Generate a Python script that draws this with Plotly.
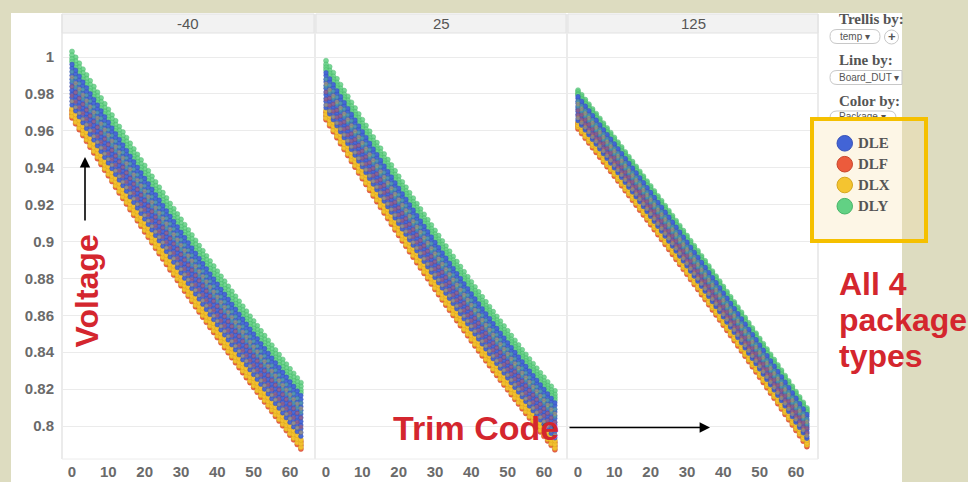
import plotly.graph_objects as go

# ---------------- data ----------------
temps = ["-40", "25", "125"]
trim_codes = list(range(64))
x_tick_vals = [0, 10, 20, 30, 40, 50, 60]
y_tick_vals = [0.8, 0.82, 0.84, 0.86, 0.88, 0.9, 0.92, 0.94, 0.96, 0.98, 1.0]
y_tick_text = ["0.8", "0.82", "0.84", "0.86", "0.88", "0.9", "0.92", "0.94", "0.96", "0.98", "1"]

packages = ["DLE", "DLF", "DLX", "DLY"]
pkg_colors = ["#4264d6", "#ec5b3c", "#f4c430", "#62d184"]
pkg_edge = ["#3550b8", "#c8442a", "#d6a61c", "#45b568"]

# nominal (median) voltage per trim code, mV
v_m40_mV = [985.0, 981.8, 978.6, 975.4, 972.3, 969.1, 966.0, 962.9, 959.8, 956.6, 953.6, 950.5, 947.4, 944.3, 941.3, 938.3,
            935.2, 932.2, 929.2, 926.2, 923.2, 920.3, 917.3, 914.3, 911.4, 908.5, 905.6, 902.6, 899.8, 896.9, 894.0, 891.1,
            888.3, 885.5, 882.6, 879.8, 877.0, 874.2, 871.4, 868.7, 865.9, 863.1, 860.4, 857.7, 855.0, 852.3, 849.6, 846.9,
            844.2, 841.5, 838.9, 836.3, 833.6, 831.0, 828.4, 825.8, 823.2, 820.7, 818.1, 815.5, 813.0, 810.5, 808.0, 805.5]
v_25_mV = [982.0, 978.7, 975.5, 972.2, 969.0, 965.8, 962.6, 959.4, 956.3, 953.1, 950.0, 946.9, 943.7, 940.6, 937.6, 934.5,
           931.4, 928.4, 925.4, 922.3, 919.3, 916.3, 913.4, 910.4, 907.5, 904.5, 901.6, 898.7, 895.8, 892.9, 890.0, 887.2,
           884.3, 881.5, 878.7, 875.9, 873.1, 870.4, 867.6, 864.9, 862.1, 859.4, 856.7, 854.0, 851.3, 848.7, 846.0, 843.4,
           840.8, 838.2, 835.6, 833.0, 830.4, 827.9, 825.3, 822.8, 820.3, 817.8, 815.3, 812.8, 810.4, 807.9, 805.5, 803.1]
v_125_mV = [972.0, 969.5, 966.9, 964.4, 961.8, 959.3, 956.7, 954.1, 951.5, 949.0, 946.4, 943.8, 941.2, 938.5, 935.9, 933.3,
            930.7, 928.0, 925.4, 922.7, 920.1, 917.4, 914.7, 912.1, 909.4, 906.7, 904.0, 901.3, 898.6, 895.9, 893.2, 890.4,
            887.7, 885.0, 882.2, 879.5, 876.7, 873.9, 871.2, 868.4, 865.6, 862.8, 860.0, 857.2, 854.4, 851.6, 848.8, 845.9,
            843.1, 840.3, 837.4, 834.6, 831.7, 828.8, 826.0, 823.1, 820.2, 817.3, 814.4, 811.5, 808.6, 805.7, 802.8, 799.8]

# Board_DUT line offsets from nominal (mV), per package and temperature
DLE_off_m40 = [-11, -9, -7, -5, -3, -1, 1, 3, 5, 7, 9, 11]
DLF_off_m40 = [-18, -16, -14, -6, -1]
DLX_off_m40 = [-17, -15, -13, -9, 4]
DLY_off_m40 = [18, 16, 14, 12.5, 7, 2]

DLE_off_25 = [-9.5, -8, -6, -4.5, -2.5, -1, 1, 2.5, 4.5, 6, 8, 9.5]
DLF_off_25 = [-16, -14, -12, -5, -1]
DLX_off_25 = [-15, -13, -11, -8, 3.5]
DLY_off_25 = [16, 14, 12.5, 11, 6, 2]

DLE_off_125 = [-6.5, -5.5, -4, -3, -1.5, -0.5, 0.5, 1.5, 3, 4, 5.5, 6.5]
DLF_off_125 = [-11, -9.5, -8, -3.5, -1]
DLX_off_125 = [-10, -9, -7.5, -5, 2.5]
DLY_off_125 = [10, 9, 8, 7.5, 4, 1]

nominal_by_temp = [v_m40_mV, v_25_mV, v_125_mV]
offsets_by_temp = [
    {"DLE": DLE_off_m40, "DLF": DLF_off_m40, "DLX": DLX_off_m40, "DLY": DLY_off_m40},
    {"DLE": DLE_off_25, "DLF": DLF_off_25, "DLX": DLX_off_25, "DLY": DLY_off_25},
    {"DLE": DLE_off_125, "DLF": DLF_off_125, "DLX": DLX_off_125, "DLY": DLY_off_125},
]

# ---------------- geometry helpers (pixels -> paper) ----------------
W, H = 968, 482


def px(x):
    return x / W


def py(y):
    return 1 - y / H


panel_left = [62, 316, 568]
panel_right = [314, 566, 818]
plot_top, plot_bottom, header_top = 33, 459, 14
px_per_code = 3.633
zero_px = 10

fig = go.Figure()
axis_names = ["x", "x2", "x3"]


def add_line(t, pkg, off, size, opacity):
    k = packages.index(pkg)
    nominal = nominal_by_temp[t]
    fig.add_trace(go.Scatter(
        x=trim_codes, y=[(v + off) / 1000.0 for v in nominal], mode="markers",
        xaxis=axis_names[t], yaxis="y",
        marker=dict(size=size, color=pkg_colors[k], opacity=opacity, line=dict(width=0.5, color=pkg_edge[k])),
        showlegend=False, hoverinfo="skip", name="%s %s" % (pkg, temps[t])))


for t in range(3):
    offs = offsets_by_temp[t]
    lo, hi = min(offs["DLE"]), max(offs["DLE"])
    inner = []
    # outer (edge) lines of the other packages first
    for pkg in ["DLY", "DLF", "DLX"]:
        for off in offs[pkg]:
            if lo < off < hi:
                inner.append((pkg, off))
            else:
                add_line(t, pkg, off, 5, 0.85 if pkg == "DLY" else 0.95)
    # DLE body
    for off in offs["DLE"]:
        add_line(t, "DLE", off, 4.6, 0.95)
    # lines of other packages inside the DLE body: drawn translucent on top
    for pkg, off in inner:
        add_line(t, pkg, off, 4, 0.4)

# "Package" dropdown text (partly hidden by the legend box)
fig.add_trace(go.Scatter(x=[839], y=[117.5], mode="text", text=["Package \u25BE"], textposition="middle right",
                         textfont=dict(family="Liberation Sans, Arial", size=10, color="#555"),
                         xaxis="x4", yaxis="y4", cliponaxis=False, showlegend=False, hoverinfo="skip"))

layout = dict(
    width=W, height=H, margin=dict(l=0, r=0, t=0, b=0),
    paper_bgcolor="#dddcc0", plot_bgcolor="rgba(0,0,0,0)",
    showlegend=False,
    yaxis=dict(domain=[py(plot_bottom), py(plot_top)], anchor="x",
               range=[0.8 - (plot_bottom - 426) / 1845, 1.0 + (57 - plot_top) / 1845],
               tickvals=y_tick_vals, ticktext=y_tick_text, showgrid=True, gridcolor="#ebebeb", gridwidth=1,
               zeroline=False, showline=False, ticks="", ticklabelstandoff=7,
               tickfont=dict(family="Liberation Sans, Arial", size=15, color="#6a6a6a", weight="bold")),
    xaxis4=dict(domain=[0, 1], range=[0, W], visible=False, anchor="y4", fixedrange=True),
    yaxis4=dict(domain=[0, 1], range=[H, 0], visible=False, anchor="x4", fixedrange=True),
)
for t in range(3):
    w = panel_right[t] - panel_left[t]
    key = "xaxis" if t == 0 else "xaxis%d" % (t + 1)
    layout[key] = dict(domain=[px(panel_left[t]), px(panel_right[t])], anchor="y",
                       range=[-zero_px / px_per_code, (w - zero_px) / px_per_code],
                       tickvals=x_tick_vals, showgrid=False, zeroline=False, showline=False, ticks="",
                       ticklabelstandoff=2,
                       tickfont=dict(family="Liberation Sans, Arial", size=15, color="#6a6a6a", weight="bold"))
fig.update_layout(**layout)

shapes = []
# white chart image area
shapes.append(dict(type="rect", xref="paper", yref="paper", layer="below", x0=px(11), x1=px(902), y0=py(482),
                   y1=py(13), fillcolor="white", line=dict(width=0)))
# header bands + panel borders
for t in range(3):
    shapes.append(dict(type="rect", xref="paper", yref="paper", layer="below",
                       x0=px(panel_left[t]), x1=px(panel_right[t]), y0=py(plot_top), y1=py(header_top),
                       fillcolor="#f2f2f2", line=dict(color="#e2e2e2", width=1)))
for xb in [62, 315, 567, 818]:
    shapes.append(dict(type="line", xref="paper", yref="paper", layer="below", x0=px(xb), x1=px(xb),
                       y0=py(plot_bottom), y1=py(header_top), line=dict(color="#e4e4e4", width=1.5)))
shapes.append(dict(type="line", xref="paper", yref="paper", layer="below", x0=px(62), x1=px(818),
                   y0=py(plot_bottom), y1=py(plot_bottom), line=dict(color="#ececec", width=1)))


def pill_path(x0, y0, x1, y1, r, cut_right=False):
    if cut_right:
        pts = ["M%f,%f" % (px(x0 + r), py(y0)), "L%f,%f" % (px(x1), py(y0)), "L%f,%f" % (px(x1), py(y1)),
               "L%f,%f" % (px(x0 + r), py(y1))]
    else:
        pts = ["M%f,%f" % (px(x0 + r), py(y0)), "L%f,%f" % (px(x1 - r), py(y0)),
               "Q%f,%f %f,%f" % (px(x1), py(y0), px(x1), py(y0 + r)),
               "L%f,%f" % (px(x1), py(y1 - r)),
               "Q%f,%f %f,%f" % (px(x1), py(y1), px(x1 - r), py(y1)),
               "L%f,%f" % (px(x0 + r), py(y1))]
    pts += ["Q%f,%f %f,%f" % (px(x0), py(y1), px(x0), py(y1 - r)),
            "L%f,%f" % (px(x0), py(y0 + r)),
            "Q%f,%f %f,%f" % (px(x0), py(y0), px(x0 + r), py(y0)), "Z"]
    return " ".join(pts)


# dropdown pills
shapes.append(dict(type="path", xref="paper", yref="paper", layer="below", path=pill_path(830, 29.5, 880, 43.5, 7),
                   fillcolor="white", line=dict(color="#c8c8c8", width=1)))
shapes.append(dict(type="circle", xref="paper", yref="paper", layer="below", x0=px(884.5), x1=px(898.5),
                   y0=py(44), y1=py(30), fillcolor="white", line=dict(color="#c8c8c8", width=1)))
shapes.append(dict(type="path", xref="paper", yref="paper", layer="below",
                   path=pill_path(830, 70.5, 902, 84.5, 7, cut_right=True),
                   fillcolor="white", line=dict(color="#c8c8c8", width=1)))
shapes.append(dict(type="path", xref="paper", yref="paper", layer="below", path=pill_path(830, 111, 896, 125, 7),
                   fillcolor="white", line=dict(color="#c8c8c8", width=1)))

# legend box (slide overlay)
shapes.append(dict(type="rect", xref="paper", yref="paper", layer="above", x0=px(812), x1=px(902), y0=py(241),
                   y1=py(119), fillcolor="#fdf6e6", line=dict(width=0)))
shapes.append(dict(type="rect", xref="paper", yref="paper", layer="above", x0=px(902), x1=px(926), y0=py(241),
                   y1=py(119), fillcolor="rgba(248,225,168,0.3)", line=dict(width=0)))
shapes.append(dict(type="rect", xref="paper", yref="paper", layer="above", x0=px(812), x1=px(926), y0=py(241),
                   y1=py(119), fillcolor="rgba(0,0,0,0)", line=dict(color="#f5c000", width=4)))
legend_y = [143.3, 164.2, 185.0, 206.2]
for k, pkg in enumerate(packages):
    cy = legend_y[k]
    shapes.append(dict(type="circle", xref="paper", yref="paper", layer="above", x0=px(837), x1=px(852.5),
                       y0=py(cy + 7.8), y1=py(cy - 7.8), fillcolor=pkg_colors[k],
                       line=dict(color=pkg_edge[k], width=1)))

fig.update_layout(shapes=shapes)

ann = []
sans = "Liberation Sans, Arial"
serif = "Liberation Serif, Times New Roman"
for t, temp in enumerate(temps):
    ann.append(dict(x=px((panel_left[t] + panel_right[t]) / 2), y=py(23.5), xref="paper", yref="paper",
                    text=temp, showarrow=False, xanchor="center", yanchor="middle",
                    font=dict(family=sans, size=15, color="#555")))
for txt, yy in [("Trellis by:", 19), ("Line by:", 60), ("Color by:", 100.5)]:
    ann.append(dict(x=px(837), y=py(yy), xref="paper", yref="paper", text=txt, showarrow=False,
                    xanchor="left", yanchor="middle", font=dict(family=serif, size=15, color="#555", weight="bold")))
ann.append(dict(x=px(838), y=py(36.5), xref="paper", yref="paper", text="temp \u25BE", showarrow=False,
                xanchor="left", yanchor="middle", font=dict(family=sans, size=10, color="#555")))
ann.append(dict(x=px(891.5), y=py(36.5), xref="paper", yref="paper", text="+", showarrow=False,
                xanchor="center", yanchor="middle", font=dict(family=sans, size=13, color="#555", weight="bold")))
ann.append(dict(x=px(837), y=py(77.5), xref="paper", yref="paper", text="Board_DUT \u25BE", showarrow=False,
                xanchor="left", yanchor="middle", font=dict(family=sans, size=10, color="#555")))
for k, pkg in enumerate(packages):
    ann.append(dict(x=px(856), y=py(legend_y[k]), xref="paper", yref="paper", text=pkg, showarrow=False,
                    xanchor="left", yanchor="middle", font=dict(family=serif, size=15, color="#555", weight="bold")))

red = "#d4262e"
ann.append(dict(x=px(86.5), y=py(291), xref="paper", yref="paper", text="Voltage", textangle=-90,
                showarrow=False, xanchor="center", yanchor="middle",
                font=dict(family=sans, size=32, color=red, weight="bold")))
ann.append(dict(x=px(85), y=py(157), xref="paper", yref="paper", text="", showarrow=True, ax=0, ay=65,
                arrowhead=2, arrowsize=1.3, arrowwidth=1.6, arrowcolor="black", standoff=0, startstandoff=0))
ann.append(dict(x=px(475.5), y=py(428), xref="paper", yref="paper", text="Trim Code", showarrow=False,
                xanchor="center", yanchor="middle", font=dict(family=sans, size=34, color=red, weight="bold")))
ann.append(dict(x=px(710), y=py(427.5), xref="paper", yref="paper", text="", showarrow=True, ax=-142, ay=0,
                arrowhead=2, arrowsize=1.3, arrowwidth=1.6, arrowcolor="black", standoff=0, startstandoff=0))
for txt, yy in [("All 4", 284), ("package", 320), ("types", 356)]:
    ann.append(dict(x=px(837), y=py(yy), xref="paper", yref="paper", text=txt, showarrow=False,
                    xanchor="left", yanchor="middle", font=dict(family=sans, size=32, color=red, weight="bold")))
fig.update_layout(annotations=ann)

fig.write_html("out.html", config={"displayModeBar": False}, post_script=(
    "document.body.style.margin='0';document.body.style.padding='0';"
    "document.body.style.overflow='hidden';document.body.style.background='#dddcc0';"))
